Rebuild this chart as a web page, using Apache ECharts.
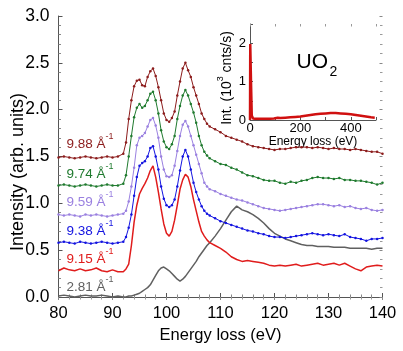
<!DOCTYPE html>
<html><head><meta charset="utf-8">
<script src="https://cdn.jsdelivr.net/npm/echarts@6/dist/echarts.min.js"></script>
<style>html,body{margin:0;padding:0;background:#fff}#c{width:403px;height:351px}</style>
</head><body><div id="c"></div>
<script>
// Energy loss (eV) sample points
var energy = [80,81,82,83,84,85,86,87,88,89,90,91,92,
92.5,93,93.5,94,94.5,95,95.5,96,96.5,97,97.5,98,98.5,99,99.5,100,100.5,101,101.5,102,102.5,103,103.5,104,104.5,105,105.5,106,106.5,107,107.5,108,
109,110,111,112,113,114,115,116,117,118,119,120,121,122,123,124,125,126,127,128,129,130,131,132,133,134,135,136,137,138,139,140];

var q988 = [1.49,1.50,1.49,1.48,1.49,1.50,1.49,1.48,1.49,1.50,1.49,1.50,1.53,
1.65,1.90,2.10,2.25,2.31,2.32,2.26,2.25,2.35,2.41,2.44,2.36,2.24,2.10,1.96,1.89,1.87,1.91,1.98,2.15,2.30,2.44,2.50,2.42,2.35,2.24,2.15,2.06,1.96,1.90,1.85,1.82,
1.79,1.76,1.72,1.70,1.68,1.66,1.63,1.61,1.60,1.59,1.58,1.57,1.58,1.58,1.59,1.60,1.60,1.60,1.59,1.60,1.59,1.58,1.59,1.58,1.58,1.57,1.58,1.57,1.56,1.55,1.55,1.53];

var q974 = [1.19,1.20,1.19,1.18,1.19,1.20,1.19,1.18,1.19,1.20,1.19,1.19,1.21,
1.30,1.50,1.72,1.92,2.02,2.06,2.02,2.04,2.10,2.17,2.19,2.10,1.96,1.78,1.66,1.60,1.58,1.63,1.72,1.90,2.04,2.15,2.21,2.15,2.06,1.97,1.86,1.72,1.62,1.55,1.51,1.48,
1.45,1.42,1.41,1.38,1.36,1.33,1.30,1.29,1.27,1.25,1.24,1.24,1.22,1.21,1.23,1.22,1.24,1.25,1.27,1.28,1.27,1.27,1.26,1.27,1.25,1.25,1.24,1.24,1.23,1.22,1.20,1.22];

var q959 = [0.88,0.87,0.88,0.87,0.86,0.88,0.87,0.88,0.87,0.86,0.87,0.88,0.89,
0.92,1.02,1.18,1.38,1.62,1.70,1.72,1.75,1.82,1.89,1.91,1.83,1.70,1.50,1.36,1.29,1.28,1.30,1.40,1.56,1.72,1.84,1.88,1.82,1.72,1.62,1.52,1.42,1.32,1.22,1.18,1.15,
1.13,1.10,1.08,1.06,1.04,1.03,1.01,0.99,0.97,0.95,0.94,0.93,0.92,0.93,0.94,0.95,0.96,0.97,0.98,0.99,0.99,0.98,0.97,0.98,0.96,0.97,0.95,0.94,0.95,0.93,0.92,0.93];

var q938 = [0.58,0.59,0.58,0.57,0.59,0.58,0.57,0.58,0.59,0.58,0.57,0.58,0.59,
0.64,0.74,0.88,1.08,1.28,1.40,1.43,1.45,1.50,1.59,1.61,1.50,1.36,1.18,1.05,0.98,0.96,0.98,1.04,1.18,1.35,1.50,1.57,1.50,1.36,1.22,1.12,1.04,0.97,0.92,0.89,0.87,
0.84,0.81,0.79,0.77,0.75,0.73,0.71,0.70,0.68,0.67,0.65,0.64,0.64,0.63,0.64,0.65,0.66,0.67,0.68,0.67,0.66,0.67,0.66,0.65,0.67,0.64,0.63,0.62,0.60,0.62,0.62,0.63];

var q915 = [0.28,0.31,0.29,0.28,0.30,0.28,0.29,0.31,0.28,0.27,0.29,0.27,0.27,
0.30,0.35,0.55,0.80,0.98,1.10,1.16,1.21,1.27,1.35,1.40,1.28,1.12,0.94,0.78,0.68,0.65,0.70,0.82,0.98,1.15,1.25,1.31,1.28,1.18,1.04,0.92,0.80,0.70,0.65,0.61,0.58,
0.55,0.52,0.48,0.43,0.40,0.38,0.39,0.38,0.37,0.36,0.34,0.33,0.34,0.33,0.34,0.35,0.33,0.34,0.35,0.36,0.34,0.35,0.36,0.34,0.36,0.33,0.30,0.28,0.32,0.33,0.34,0.33];

var q281 = [0.01,0.02,0.01,0.00,0.01,0.02,0.01,0.01,0.02,0.01,0.00,0.01,0.00,
0.00,0.01,0.01,0.02,0.03,0.04,0.06,0.08,0.10,0.13,0.18,0.23,0.28,0.31,0.32,0.30,0.28,0.25,0.22,0.19,0.17,0.19,0.22,0.26,0.30,0.34,0.38,0.43,0.47,0.51,0.55,0.58,
0.65,0.73,0.82,0.91,0.97,0.93,0.91,0.88,0.84,0.79,0.73,0.68,0.65,0.62,0.60,0.58,0.56,0.55,0.55,0.54,0.54,0.54,0.53,0.53,0.53,0.52,0.52,0.52,0.52,0.51,0.52,0.52];

var seriesNames = ['9.88','9.74','9.59','9.38','9.15','2.81'];
var seriesValues = [q988, q974, q959, q938, q915, q281];

// inset: wide-range spectrum
var insetEnergy = [0,1,4,7,12,20,40,60,80,95,100,110,120,140,160,180,200,220,240,260,280,300,320,340,360,380,400,420,440,460,480,495];
var insetInt = [0.0,1.98,1.0,0.12,0.04,0.03,0.03,0.03,0.03,0.04,0.07,0.06,0.05,0.06,0.07,0.08,0.09,0.11,0.13,0.15,0.16,0.17,0.18,0.18,0.17,0.16,0.15,0.13,0.11,0.09,0.07,0.06];

var xTicks = [80,90,100,110,120,130,140];
var yTicks = [0,0.5,1,1.5,2,2.5,3];
var insetXTicks = [0,200,400];
var insetYTicks = [0,1,2];

var colors = ['#8c1c1c','#1f7a2e','#9a80e0','#1414e0','#e01c1c','#606060'];
var FF = '"Liberation Sans", Arial, sans-serif';
var axisCol = '#555';

function pairs(xs, ys){ var out=[]; for (var i=0;i<xs.length;i++) out.push([xs[i], ys[i]]); return out; }

var series = [];
var order = [5,4,3,2,1,0];
order.forEach(function(k){
  var thick = (k===4 || k===5);
  series.push({
    type:'line', name: seriesNames[k], xAxisIndex:0, yAxisIndex:0,
    data: pairs(energy, seriesValues[k]),
    showSymbol: !thick, symbol:'circle', symbolSize: 2.5,
    lineStyle:{color: colors[k], width: thick ? 1.5 : 1},
    itemStyle:{color: colors[k]},
    silent:true, animation:false, z: 3
  });
});
series.push({
  type:'line', xAxisIndex:2, yAxisIndex:2, data: pairs(insetEnergy, insetInt),
  showSymbol:false, lineStyle:{color:'#d01010', width:2.5}, animation:false, silent:true
});

var labelY = [141.5, 171.5, 200, 228.5, 256.5, 285];
var graphics = [];
seriesNames.forEach(function(n, k){
  graphics.push({
    type:'text', x:66.5, y:labelY[k], silent:true,
    style:{
      text:'{a|' + n + ' Å}{s|-1}', align:'left', verticalAlign:'middle',
      rich:{
        a:{fontSize:13.5, fontFamily:FF, fill:colors[k], lineHeight:19, verticalAlign:'bottom'},
        s:{fontSize:9, fontFamily:FF, fill:colors[k], lineHeight:9, verticalAlign:'top'}
      }
    }
  });
});
graphics.push({type:'text', x:18, y:172, rotation:Math.PI/2, silent:true,
  style:{text:'Intensity (arb. units)', align:'center', verticalAlign:'middle', font:'18px ' + FF, fill:'#000'}});
graphics.push({type:'text', x:225, y:78, rotation:Math.PI/2, silent:true,
  style:{text:'{a|Int. (10}{s|3}{a| cnts/s)}', align:'center', verticalAlign:'middle',
    rich:{a:{fontSize:14, fontFamily:FF, fill:'#000', lineHeight:18, verticalAlign:'bottom'},
          s:{fontSize:9, fontFamily:FF, fill:'#000', lineHeight:9, verticalAlign:'top'}}}});
graphics.push({type:'text', x:296.5, y:62, silent:true,
  style:{text:'UO', align:'left', verticalAlign:'middle', font:'21px ' + FF, fill:'#000'}});
graphics.push({type:'text', x:329.5, y:72, silent:true,
  style:{text:'2', align:'left', verticalAlign:'middle', font:'14px ' + FF, fill:'#000'}});

var option = {
  animation:false,
  backgroundColor:'#fff',
  grid:[
    {left:58.5, right:20.5, top:16, bottom:54},
    {left:250, right:27, top:24, bottom:231}
  ],
  xAxis:[
    {gridIndex:0, type:'value', min:80, max:140, interval:10, position:'bottom',
     axisLine:{show:true, lineStyle:{color:axisCol, width:1}},
     axisTick:{show:true, inside:true, length:4, lineStyle:{color:axisCol}},
     minorTick:{show:true, splitNumber:5, length:2.5, lineStyle:{color:'#888'}},
     axisLabel:{margin:8, fontSize:16.5, fontFamily:FF, color:'#000',
       formatter:function(v){ return xTicks.indexOf(v)>=0 ? String(v) : ''; }},
     splitLine:{show:false},
     name:'Energy loss (eV)', nameLocation:'middle', nameGap:28,
     nameTextStyle:{fontSize:16.5, fontFamily:FF, color:'#000'}},
    {gridIndex:0, type:'value', min:80, max:140, interval:10, position:'top',
     axisLine:{show:false}, axisTick:{show:true, inside:true, length:3, lineStyle:{color:'#888'}},
     minorTick:{show:true, splitNumber:5, length:2.5, lineStyle:{color:'#999'}},
     axisLabel:{show:false}, splitLine:{show:false}},
    {gridIndex:1, type:'value', min:0, max:500, interval:100,
     axisLine:{show:true, lineStyle:{color:axisCol}},
     axisTick:{show:true, inside:true, length:3, lineStyle:{color:axisCol}},
     axisLabel:{margin:2, fontSize:13, fontFamily:FF, color:'#000',
       formatter:function(v){ return insetXTicks.indexOf(v)>=0 ? String(v) : ''; }},
     splitLine:{show:false},
     name:'Energy loss (eV)', nameLocation:'middle', nameGap:13,
     nameTextStyle:{fontSize:12, fontFamily:FF, color:'#000'}},
    {gridIndex:1, type:'value', min:0, max:500, interval:100, position:'top',
     axisLine:{show:false}, axisTick:{show:true, inside:true, length:2.5, lineStyle:{color:'#999'}},
     axisLabel:{show:false}, splitLine:{show:false}}
  ],
  yAxis:[
    {gridIndex:0, type:'value', min:0, max:3, interval:0.5,
     axisLine:{show:true, lineStyle:{color:axisCol, width:1}},
     axisTick:{show:true, inside:true, length:4, lineStyle:{color:axisCol}},
     minorTick:{show:true, splitNumber:5, length:2.5, lineStyle:{color:'#888'}},
     axisLabel:{margin:9, fontSize:17.5, fontFamily:FF, color:'#000',
       formatter:function(v){ return yTicks.indexOf(v)>=0 ? v.toFixed(1) : ''; }},
     splitLine:{show:false}},
    {gridIndex:0, type:'value', min:0, max:3, interval:0.5, position:'right',
     axisLine:{show:false}, axisTick:{show:true, inside:true, length:3, lineStyle:{color:'#888'}},
     minorTick:{show:true, splitNumber:5, length:2.5, lineStyle:{color:'#999'}},
     axisLabel:{show:false}, splitLine:{show:false}},
    {gridIndex:1, type:'value', min:0, max:2.5, interval:0.5, position:'left',
     axisLine:{show:true, lineStyle:{color:axisCol}},
     axisTick:{show:true, inside:true, length:3, lineStyle:{color:axisCol}},
     axisLabel:{show:true, margin:4, fontSize:13, fontFamily:FF, color:'#000',
       formatter:function(v){ return insetYTicks.indexOf(v)>=0 ? String(v) : ''; }},
     splitLine:{show:false}}
  ],
  series: series,
  graphic: graphics
};
var chart = echarts.init(document.getElementById('c'), null, {renderer:'canvas'});
chart.setOption(option);
</script></body></html>
